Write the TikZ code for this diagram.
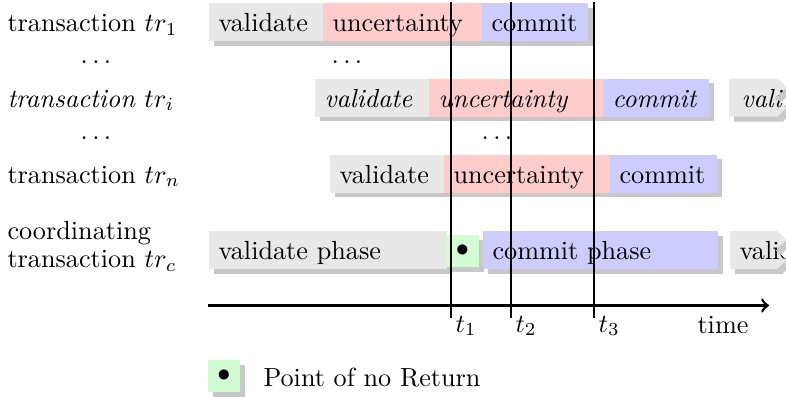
\documentclass[tikz,border=0pt]{standalone}
\usetikzlibrary{shadows}
\newlength\pxl
\setlength\pxl{0.3817pt}
\newcommand\bxt[2]{\makebox[#1\pxl][l]{#2}}
\definecolor{valc}{HTML}{E8E8E8}
\definecolor{uncc}{HTML}{FFCCCC}
\definecolor{comc}{HTML}{CCCCFF}
\definecolor{grnc}{HTML}{D4FCD4}
\definecolor{shc}{HTML}{C8C8C8}
\tikzset{
  shad/.style={drop shadow={shadow xshift=1.9pt, shadow yshift=-1.9pt, fill=shc, opacity=1}},
  bx/.style={fill=#1, anchor=west, inner xsep=3.817pt, inner ysep=0pt, minimum height=14.5pt, text height=8pt, text depth=0.6pt, shad},
  pnr/.style={fill=grnc, inner sep=0pt, minimum width=12.4pt, minimum height=12.4pt, shad},
  lbl/.style={anchor=base west, inner sep=0pt},
  dts/.style={anchor=base, inner sep=0pt},
  cut/.style={anchor=west, inner sep=0pt, text height=8pt, text depth=0.6pt},
  tline/.style={line width=0.4pt},
  axis/.style={line width=1pt, ->},
}
\begin{document}
\begin{tikzpicture}[x=0.3817pt, y=-0.3817pt]
\useasboundingbox (0,0) rectangle (786,396);
% row labels
\node[lbl] (l1) at (7,31.7) {transaction $tr_1$};
\node[dts] (d1) at (96,63) {$\ldots$};
\node[lbl] (li) at (7,107) {\textit{transaction} $tr_i$};
\node[dts] (d2) at (96,139) {$\ldots$};
\node[lbl] (ln) at (7,183) {transaction $tr_n$};
\node[anchor=west, inner sep=0pt, align=left] (lc) at (7,246) {coordinating\\[-1.3pt]transaction $tr_c$};
% row 1
\node[bx=valc] (v1) at (208,22) {\bxt{94}{validate}};
\node[bx=uncc] (u1) at (322,22) {\bxt{139}{uncertainty}};
\node[bx=comc] (c1) at (481,22) {\bxt{86}{commit}};
\node[dts] (m1) at (347,63) {$\ldots$};
% row i
\node[bx=valc] (vi) at (314,97.5) {\bxt{94}{\textit{validate}}};
\node[bx=uncc] (ui) at (428,97.5) {\bxt{154}{\textit{uncertainty}}};
\node[bx=comc] (ci) at (602,97.5) {\bxt{86}{\textit{commit}}};
\fill[shc, shift={(5,5)}] (729,78.5) -- (778,78.5) -- (787,88) -- (775,97.5) -- (787,107) -- (778,116.5) -- (729,116.5) -- cycle;
\fill[valc] (729,78.5) -- (778,78.5) -- (787,88) -- (775,97.5) -- (787,107) -- (778,116.5) -- (729,116.5) -- cycle;
\begin{scope}
\clip (729,78.5) -- (778,78.5) -- (787,88) -- (775,97.5) -- (787,107) -- (778,116.5) -- (729,116.5) -- cycle;
\node[cut] (vi2) at (741,97.5) {\textit{validate}};
\end{scope}
\node[dts] (m2) at (497,139) {$\ldots$};
% row n
\node[bx=valc] (vn) at (329,173.5) {\bxt{94}{validate}};
\node[bx=uncc] (un) at (443,173.5) {\bxt{146}{uncertainty}};
\node[bx=comc] (cn) at (609,173.5) {\bxt{87}{commit}};
% row c
\node[bx=valc] (vc) at (208,250) {\bxt{218}{validate phase}};
\node[pnr] (pn) at (462.5,251) {$\bullet$};
\node[bx=comc] (cc) at (482,250) {\bxt{215}{commit phase}};
\fill[shc, shift={(5,5)}] (730,231) -- (777,231) -- (787,240) -- (775,250) -- (787,260) -- (777,269) -- (730,269) -- cycle;
\fill[valc] (730,231) -- (777,231) -- (787,240) -- (775,250) -- (787,260) -- (777,269) -- (730,269) -- cycle;
\begin{scope}
\clip (730,231) -- (777,231) -- (787,240) -- (775,250) -- (787,260) -- (777,269) -- (730,269) -- cycle;
\node[cut] (vc2) at (739,250) {validate};
\end{scope}
% time axis
\coordinate (ax0) at (208,305.5);
\coordinate (ax1) at (769,305.5);
\draw[axis] (ax0) -- (ax1);
\node[lbl] (tm) at (697,333) {time};
% time lines
\foreach \n/\xx in {1/451, 2/511, 3/594} {
  \coordinate (t\n a) at (\xx,2);
  \coordinate (t\n b) at (\xx,318);
  \draw[tline] (t\n a) -- (t\n b);
  \node[lbl] (t\n l) at (\xx+4,332) {$t_\n$};
}
% legend
\node[pnr] (lg) at (224,376) {$\bullet$};
\node[lbl] (lgt) at (263,386) {Point of no Return};
\end{tikzpicture}
\end{document}
